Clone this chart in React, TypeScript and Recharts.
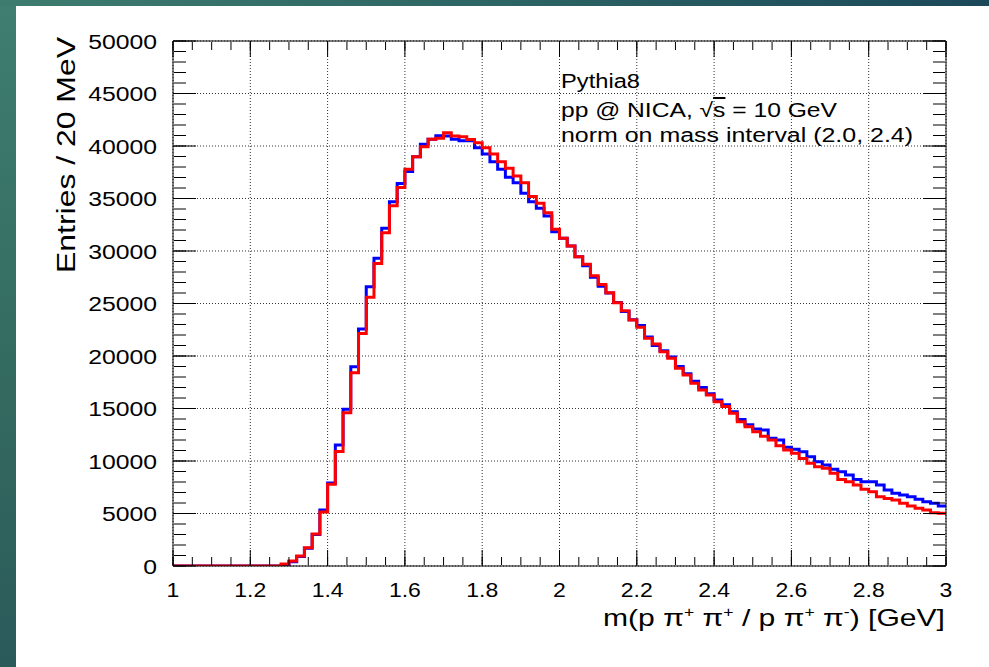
import React from "react";
import {
  LineChart,
  Line,
  XAxis,
  YAxis,
  CartesianGrid,
} from "recharts";

// bin low edges, 20 MeV bins from 1 to 3 GeV
const binLowEdges = Array.from({ length: 100 }, (_, i) => +(1 + 0.02 * i).toFixed(2));

// entries per bin
const blueCounts = [
  0, 0, 0, 0, 0, 0, 0, 0, 0, 0, 0, 0, 0, 0, 150, 400, 900, 1700, 3000, 5330,
  7900, 11520, 14920, 18980, 22570, 26600, 29300, 32160, 34700, 36440,
  37560, 38980, 40160, 40640, 40980, 40950, 40640, 40510, 40500, 39840,
  39240, 38510, 37780, 37020, 36510, 35490, 34700, 34060, 33330, 31840,
  31210, 30480, 29460, 28600, 27500, 26650, 26000, 25100, 24250, 23450,
  22900, 21800, 21000, 20500, 19900, 19000, 18300, 17600, 17000, 16400,
  15800, 15350, 14700, 13950, 13450, 13050, 12950, 12160, 12000, 11300,
  11110, 10890, 10410, 9940, 9620, 9210, 8980, 8670, 8250, 8030,
  8030, 7710, 7240, 6920, 6760, 6600, 6350, 6130, 5970, 5710,
];

const redCounts = [
  0, 0, 0, 0, 0, 0, 0, 0, 0, 0, 0, 0, 0, 0, 200, 480, 950, 1750, 3050, 5150,
  7780, 10900, 14600, 18400, 22150, 25600, 28800, 31750, 34300, 36050,
  37780, 38980, 39940, 40640, 40730, 41270, 40960, 40890, 40630, 40320,
  39840, 39240, 38510, 37870, 37140, 36510, 35180, 34540, 33650, 32060,
  31210, 30480, 29460, 28750, 27650, 26800, 26030, 25080, 24320, 23430,
  22730, 21680, 21140, 20410, 19780, 18830, 18190, 17400, 16760, 16290,
  15650, 15180, 14540, 13750, 13270, 12790, 12350, 12000, 11460, 11050,
  10730, 10250, 9780, 9460, 9300, 8830, 8250, 8030, 7710, 7300,
  7080, 6600, 6440, 6290, 5970, 5710, 5490, 5330, 5080, 5020,
];

const xMajorTicks = [1, 1.2, 1.4, 1.6, 1.8, 2, 2.2, 2.4, 2.6, 2.8, 3];
const xMinorTicks = Array.from({ length: 41 }, (_, i) => +(1 + 0.05 * i).toFixed(2));
const yMajorTicks = [0, 5000, 10000, 15000, 20000, 25000, 30000, 35000, 40000, 45000, 50000];
const yMinorTicks = Array.from({ length: 51 }, (_, i) => i * 1000);

// last bin closed at the upper edge so the step runs to x = 3
const rows = binLowEdges
  .map((x, i) => ({ x, blue: blueCounts[i], red: redCounts[i] }))
  .concat([{ x: 3, blue: blueCounts[99], red: redCounts[99] }]);

const FONT = "'Liberation Sans', Arial, Helvetica, sans-serif";

const blankTick = () => <g />;

const XTick = (props: any) => {
  const { x, y, payload } = props;
  return (
    <text
      transform={`translate(${x},${y}) scale(1.15,1)`}
      textAnchor="middle"
      fontSize={20}
      fontFamily={FONT}
      fill="#000"
    >
      {String(Math.round(payload.value * 10) / 10)}
    </text>
  );
};

const YTick = (props: any) => {
  const { x, y, payload } = props;
  return (
    <text
      transform={`translate(${x},${y + 7.5}) scale(1.18,1)`}
      textAnchor="end"
      fontSize={21}
      fontFamily={FONT}
      fill="#000"
    >
      {payload.value}
    </text>
  );
};

export default function App() {
  // tick-only axes drawn inside the frame (ROOT style)
  const frameAxis = {
    type: "number" as const,
    allowDataOverflow: true,
    interval: 0 as const,
    mirror: true,
    tick: blankTick,
    stroke: "#000",
  };
  return (
    <div
      style={{
        position: "absolute",
        left: 0,
        top: 0,
        width: 989,
        height: 667,
        background: "#ffffff",
        overflow: "hidden",
      }}
    >
      <div
        style={{
          position: "absolute",
          left: 0,
          top: 0,
          width: 16,
          height: 667,
          background: "linear-gradient(180deg, #3f7e71 0%, #33695f 60%, #2b5a5a 100%)",
        }}
      />
      <div
        style={{
          position: "absolute",
          left: 0,
          top: 0,
          width: 989,
          height: 6,
          background: "linear-gradient(90deg, #3e7c6f 0%, #2d6464 50%, #1b4859 100%)",
        }}
      />
      <div style={{ position: "absolute", left: 0, top: 0 }}>
        <LineChart
          width={989}
          height={667}
          data={rows}
          margin={{ top: 41, right: 43, bottom: 100, left: 172 }}
        >
          <CartesianGrid
            xAxisId="x"
            yAxisId="y"
            stroke="#333"
            strokeDasharray="1 2"
            strokeWidth={1}
          />
          <XAxis
            xAxisId="x"
            dataKey="x"
            type="number"
            domain={[1, 3]}
            ticks={xMajorTicks}
            interval={0}
            allowDataOverflow
            height={1}
            axisLine={false}
            tickLine={false}
            tickSize={0}
            tickMargin={31}
            tick={<XTick />}
          />
          <XAxis xAxisId="xb" dataKey="x" {...frameAxis} domain={[1, 3]} ticks={xMajorTicks} height={1} tickSize={16} />
          <XAxis xAxisId="xbm" dataKey="x" {...frameAxis} domain={[1, 3]} ticks={xMinorTicks} height={1} tickSize={8} axisLine={false} />
          <XAxis xAxisId="xt" dataKey="x" orientation="top" {...frameAxis} domain={[1, 3]} ticks={xMajorTicks} height={1} tickSize={16} />
          <XAxis xAxisId="xtm" dataKey="x" orientation="top" {...frameAxis} domain={[1, 3]} ticks={xMinorTicks} height={1} tickSize={8} axisLine={false} />
          <YAxis
            yAxisId="y"
            type="number"
            domain={[0, 50000]}
            ticks={yMajorTicks}
            interval={0}
            allowDataOverflow
            width={1}
            axisLine={false}
            tickLine={false}
            tickSize={0}
            tickMargin={16}
            tick={<YTick />}
          />
          <YAxis yAxisId="yl" {...frameAxis} domain={[0, 50000]} ticks={yMajorTicks} width={1} tickSize={23} />
          <YAxis yAxisId="ylm" {...frameAxis} domain={[0, 50000]} ticks={yMinorTicks} width={1} tickSize={12} axisLine={false} />
          <YAxis yAxisId="yr" orientation="right" {...frameAxis} domain={[0, 50000]} ticks={yMajorTicks} width={1} tickSize={23} />
          <YAxis yAxisId="yrm" orientation="right" {...frameAxis} domain={[0, 50000]} ticks={yMinorTicks} width={1} tickSize={12} axisLine={false} />
          <Line
            xAxisId="x"
            yAxisId="y"
            dataKey="blue"
            type="stepAfter"
            stroke="#0000ff"
            strokeWidth={3}
            dot={false}
            isAnimationActive={false}
          />
          <Line
            xAxisId="x"
            yAxisId="y"
            dataKey="red"
            type="stepAfter"
            stroke="#ff0000"
            strokeWidth={3}
            dot={false}
            isAnimationActive={false}
          />
        </LineChart>
      </div>
      <svg
        width={989}
        height={667}
        style={{ position: "absolute", left: 0, top: 0, pointerEvents: "none" }}
      >
        <g fontFamily={FONT} fill="#000">
          <text
            transform="translate(75,273) rotate(-90)"
            fontSize={25}
            textLength={236}
            lengthAdjust="spacingAndGlyphs"
          >
            Entries / 20 MeV
          </text>
          <text x={603} y={626} fontSize={24} textLength={342} lengthAdjust="spacingAndGlyphs">
            m(p π<tspan fontSize={14} dy={-9}>+</tspan>
            <tspan dy={9}> π</tspan>
            <tspan fontSize={14} dy={-9}>+</tspan>
            <tspan dy={9}> / p π</tspan>
            <tspan fontSize={14} dy={-9}>+</tspan>
            <tspan dy={9}> π</tspan>
            <tspan fontSize={14} dy={-9}>-</tspan>
            <tspan dy={9}>) [GeV]</tspan>
          </text>
          <text x={561} y={88} fontSize={20} textLength={79} lengthAdjust="spacingAndGlyphs">
            Pythia8
          </text>
          <text x={561} y={117} fontSize={20} textLength={276} lengthAdjust="spacingAndGlyphs">
            pp @ NICA, √<tspan style={{ textDecoration: "overline" }}>s</tspan> = 10 GeV
          </text>
          <text x={561} y={142} fontSize={20} textLength={352} lengthAdjust="spacingAndGlyphs">
            norm on mass interval (2.0, 2.4)
          </text>
        </g>
      </svg>
    </div>
  );
}
